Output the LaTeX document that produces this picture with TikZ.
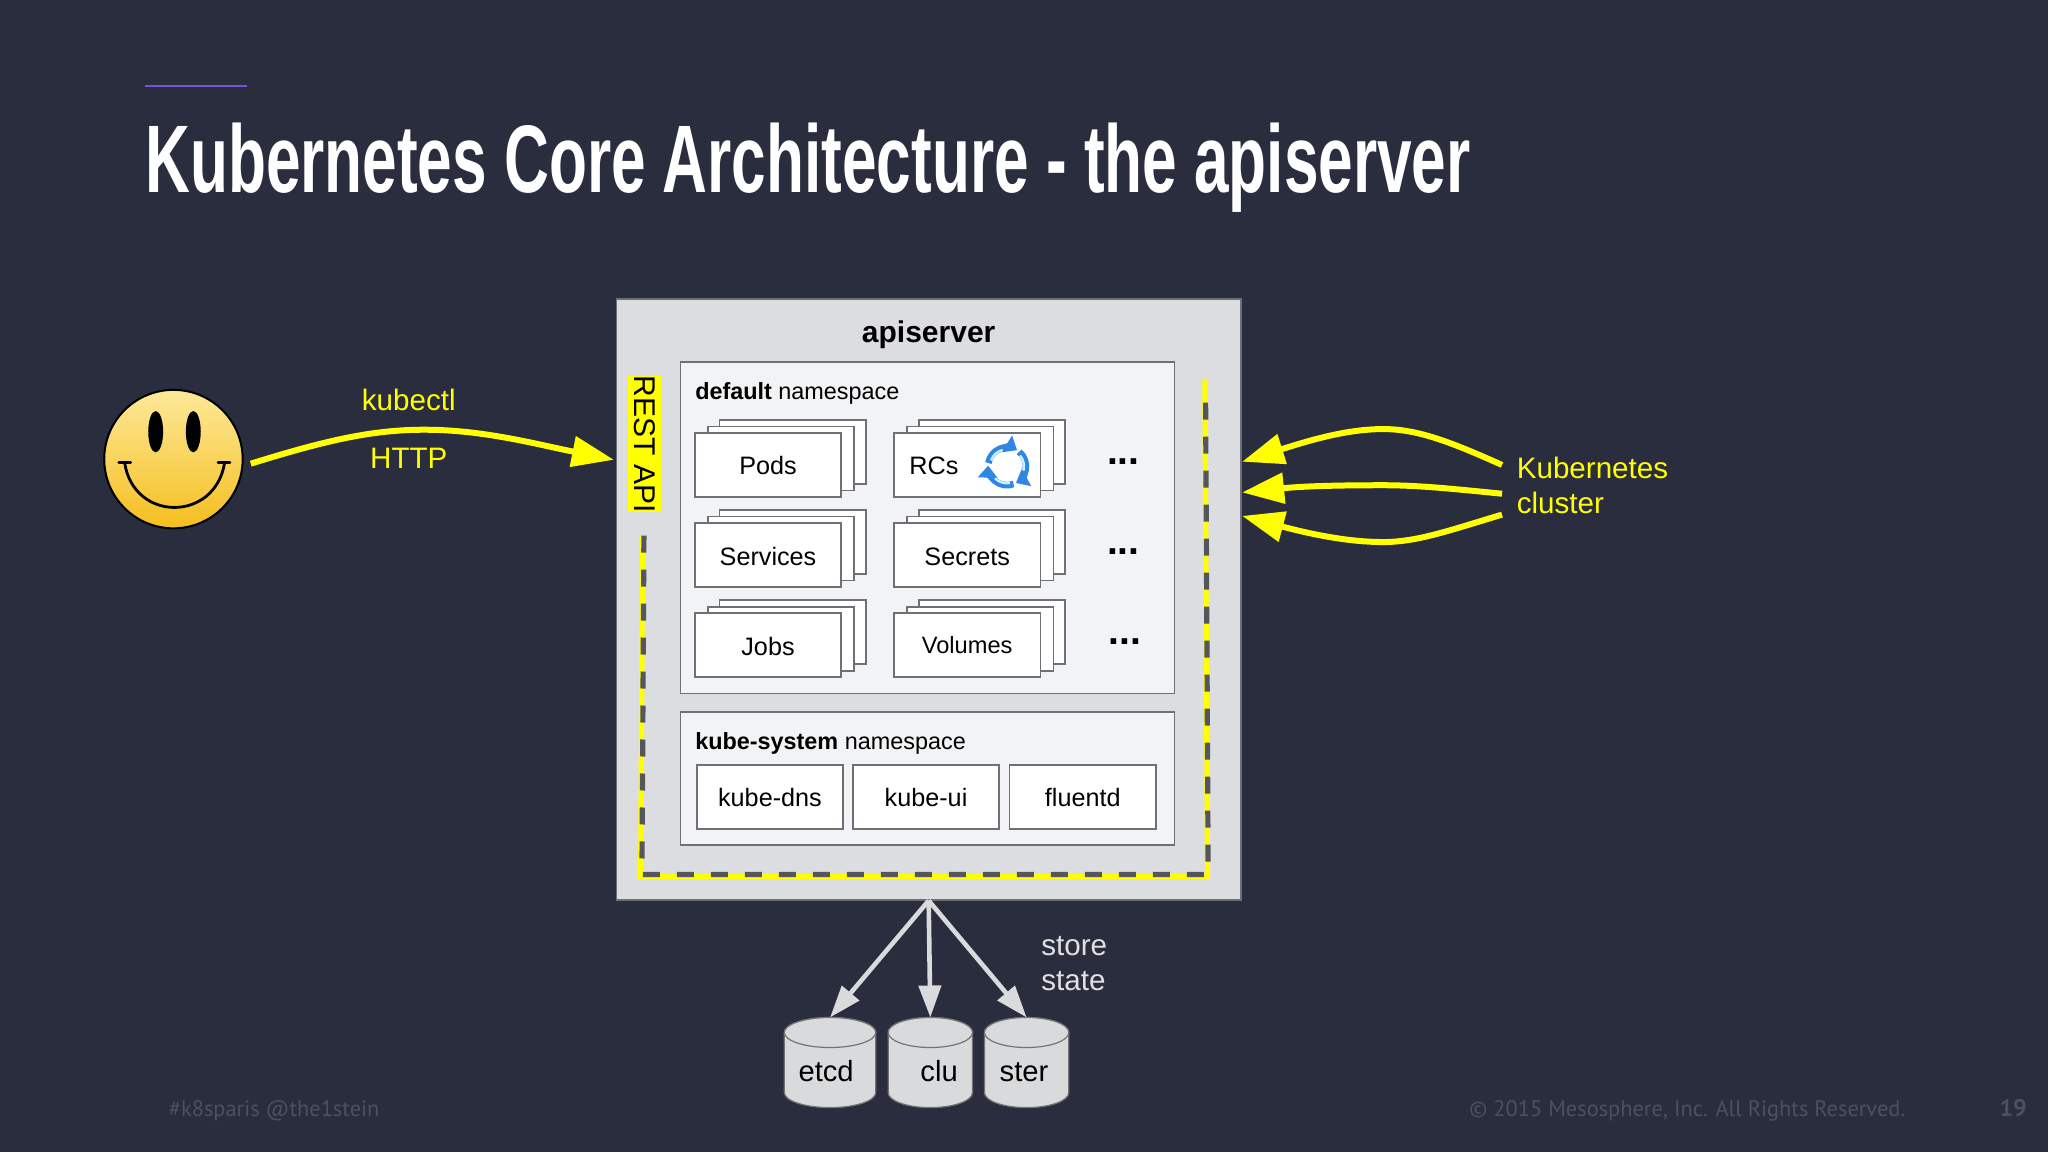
\documentclass[tikz,border=0pt]{standalone}
\usepackage{fontspec}
\setmainfont{Liberation Sans}
\newfontfamily\titlefont{Liberation Sans}[FakeStretch=0.647,UprightFont=* Bold]
\newfontfamily\footfont{PT Sans}
\usetikzlibrary{arrows.meta}
\definecolor{slidebg}{HTML}{2A2D3E}
\definecolor{panelgray}{HTML}{DCDDE0}
\definecolor{nsgray}{HTML}{F2F3F5}
\definecolor{edgegray}{HTML}{6E7076}
\definecolor{footgray}{HTML}{4C5060}
\definecolor{dashgray}{HTML}{55565C}
\definecolor{kyellow}{HTML}{FFFF00}
\definecolor{storegray}{HTML}{D9DADC}
\definecolor{titleline}{HTML}{7B4FD8}
\definecolor{smileytop}{HTML}{FDE99A}
\definecolor{smileybottom}{HTML}{F5BE1E}
\definecolor{iconblue}{HTML}{2F86E4}
\newcommand{\uu}{0.6531pt}
\tikzset{
    panel/.style = {draw = edgegray, line width = .7pt, minimum width = #1},
    card/.style = {draw = edgegray, fill = white, line width = .8pt, minimum width = 112*\uu, minimum height = 49*\uu},
    smalltext/.style = {font = \fontsize{12.6}{15}\selectfont, text = black, text height = 10pt, text depth = 0pt},
    nstext/.style = {font = \fontsize{11.7}{14}\selectfont, text = black, anchor = base west, inner sep = 0},
    yellowtext/.style = {font = \fontsize{14.8}{17.6}\selectfont, text = kyellow, inner sep = 0},
    yellowarrow/.style = {draw = kyellow, line width = 3pt, -{Triangle[length = 21pt, width = 15pt]}},
    storearrow/.style = {draw = storegray, line width = 2.3pt, -{Triangle[length = 16pt, width = 11pt]}},
    drum/.style = {draw = black!55, line width = .6pt, fill = storegray},
    storetext/.style = {font = \fontsize{14.6}{17}\selectfont, text = black, inner sep = 0},
    dotstext/.style = {font = \fontsize{19.5}{22}\selectfont\bfseries, text = black, anchor = base, inner sep = 0}
}

\begin{document}
\begin{tikzpicture}[x = 0.6531pt, y = -0.6531pt, >=stealth]
    \fill [slidebg] (0, 0) rectangle (1568, 882);
    \useasboundingbox (0, 0) rectangle (1568, 882);
    \def\stack#1#2#3#4{
        \node [card] (#1back) at (#2 + 19, #3 - 10) {};
        \node [card] (#1mid) at (#2 + 10, #3 - 5) {};
        \node [card, smalltext] (#1) at (#2, #3) {#4};
    }
    \def\storedrum#1#2#3{
        \draw [drum] (#2 - #3, 790.5)  --  (#2 - #3, 836.5) arc [start angle = 180, end angle = 0, x radius = #3, y radius = 11.5]  --  (#2 + #3, 790.5) arc [start angle = 0, end angle = -180, x radius = #3, y radius = 11.5];
        \draw [drum] (#2, 790.5) ellipse (#3 and 11.5);
        \coordinate (#1) at (#2, 779);
    }

    % title
    \draw [color = titleline, line width = 1pt] (111, 66)  --  (189, 66);
    \node [anchor = base west, inner sep = 0, text = white, font = \fontsize{48}{50}\titlefont] (title) at (111, 147) {Kubernetes Core Architecture - the apiserver};

    % user
    \draw [black, line width = 1pt, top color = smileytop, bottom color = smileybottom] (132.8, 351.5) circle (53);
    \coordinate (smiley) at (192, 355);
    \fill (119.2, 330.5) ellipse (5.7 and 15.8);
    \fill (148, 330.5) ellipse (5.7 and 15.8);
    \draw [line width = 1.4pt] (95.4, 354) .. controls (102, 400) and (165, 400) .. (172, 354);
    \draw [line width = 1.4pt, line cap = round] (91, 354)  --  (100, 354);
    \draw [line width = 1.4pt, line cap = round] (167, 354)  --  (176, 354);

    % apiserver
    \node [panel = 478*\uu, minimum height = 460*\uu, fill = panelgray] (apiserver) at (711, 459) {};
    \node [font = \fontsize{15}{18}\selectfont\bfseries, text = black, inner sep = 0] (apititle) at (711, 256) {apiserver};
    \node [panel = 378*\uu, minimum height = 254*\uu, fill = nsgray] (default) at (710, 404) {};
    \node [nstext] (defaulttext) at (532, 305.5) {\textbf{default} namespace};
    \node [panel = 378*\uu, minimum height = 102*\uu, fill = nsgray] (kubesystem) at (710, 596) {};
    \node [nstext] (kubetext) at (532, 573.5) {\textbf{kube-system} namespace};

    \stack{pods}{588}{356}{Pods}
    \stack{services}{588}{425}{Services}
    \stack{jobs}{588}{494}{Jobs}
    \stack{rcs}{740.5}{356}{}
    \stack{secrets}{740.5}{425}{Secrets}
    \stack{volumes}{740.5}{494}{\fontsize{11.8}{14}\selectfont\raisebox{1pt}{Volumes}}
    \node [smalltext, inner sep = 0] (rcstext) at (715, 356) {RCs};

    % replication icon
    \foreach \a in {-170, -50, 70} {
        \draw [color = iconblue, line width = 3.3pt, -{Triangle[length = 6pt, width = 9.5pt]}] (771, 357) ++(\a:14.5) arc [start angle = \a, end angle = \a + 112, radius = 14.5];
        \draw [color = cyan!20!white, line width = 1.2pt] (771, 357) ++(\a + 10:13) arc [start angle = \a + 10, end angle = \a + 65, radius = 13];
    }

    \node [dotstext] (dotsone) at (860, 355.5) {...};
    \node [dotstext] (dotstwo) at (860, 424.5) {...};
    \node [dotstext] (dotsthree) at (861, 493.5) {...};

    \node [card, smalltext] (kubedns) at (589.5, 610) {kube-dns};
    \node [card, smalltext] (kubeui) at (709, 610) {kube-ui};
    \node [card, smalltext] (fluentd) at (829, 610) {fluentd};

    \node [fill = kyellow, text = black, rotate = -90, minimum width = 104*\uu, minimum height = 25*\uu, inner sep = 0, font = \fontsize{15}{16}\selectfont] (restapi) at (493.5, 340) {REST API};

    % api boundary
    \draw [kyellow, line width = 2.6pt] (492, 410)  --  (490.5, 671)  --  (924.5, 671)  --  (922.5, 290);
    \draw [dashgray, line width = 2.6pt, dash pattern = on 8.5pt off 8.5pt] (493, 410)  --  (491.5, 669.5)  --  (925, 669.5)  --  (923, 300);

    % kubectl
    \coordinate (apileft) at (470, 352);
    \draw [yellowarrow] (smiley) .. controls (250, 337) and (285, 329) .. (325, 329) .. controls (370, 329) and (410, 340) .. (apileft);
    \node [yellowtext] (kubectl) at (313, 306) {kubectl};
    \node [yellowtext] (http) at (313, 351) {HTTP};

    % cluster
    \coordinate (clusterone) at (1150, 356);
    \coordinate (clustertwo) at (1150, 378);
    \coordinate (clusterthree) at (1150, 394);
    \draw [yellowarrow] (clusterone) .. controls (1110, 338) and (1085, 328.5) .. (1059, 328.5) .. controls (1030, 328.5) and (1000, 338) .. (951, 353.5);
    \draw [yellowarrow] (clustertwo) .. controls (1110, 374) and (1085, 371.5) .. (1059, 371.5) .. controls (1030, 371.5) and (1000, 372) .. (951, 377);
    \draw [yellowarrow] (clusterthree) .. controls (1110, 406) and (1085, 415) .. (1059, 415) .. controls (1030, 415) and (1000, 408) .. (951, 395);
    \node [yellowtext, anchor = west, align = left] (clustertext) at (1161, 371.5) {Kubernetes\\cluster};

    % storage
    \storedrum{etcd}{635.5}{35}
    \storedrum{clu}{712.3}{32.3}
    \storedrum{ster}{786}{32.3}
    \node [storetext] (etcdtext) at (632.5, 820) {etcd};
    \node [storetext] (clutext) at (719, 820) {clu};
    \node [storetext] (stertext) at (784, 821) {ster};
    \draw [storearrow] (apiserver.south)  --  (etcd);
    \draw [storearrow] (apiserver.south)  --  (clu);
    \draw [storearrow] (apiserver.south)  --  (ster);
    \node [font = \fontsize{14.8}{17.6}\selectfont, text = white!88!black, anchor = west, align = left, inner sep = 0] (storetext) at (797, 737.5) {store\\state};

    % footer
    \node [anchor = base west, inner sep = 0, text = footgray, font = \fontsize{11.2}{15}\footfont] (hashtag) at (129, 855) {\#k8sparis @the1stein};
    \node [anchor = base east, inner sep = 0, text = footgray, font = \fontsize{11.2}{15}\footfont] (copyright) at (1459, 855) {© 2015 Mesosphere, Inc. All Rights Reserved.};
    \node [anchor = base east, inner sep = 0, text = footgray, font = \fontsize{12}{15}\footfont\bfseries] (pagenumber) at (1552, 855) {19};
\end{tikzpicture}
\end{document}
